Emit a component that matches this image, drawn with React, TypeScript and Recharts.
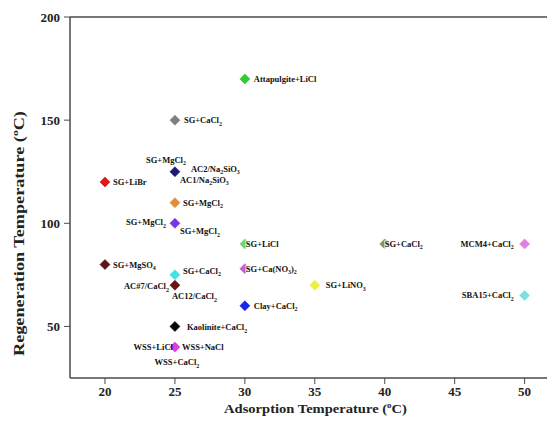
import React from "react"
import {
  ScatterChart,
  Scatter,
  XAxis,
  YAxis,
  ReferenceLine,
  Label,
} from "recharts"

// adsorption / regeneration temperatures (°C)
const adsorptionTemp = [30, 25, 25, 20, 25, 25, 30, 40, 50, 20, 30, 25, 25, 35, 50, 30, 25, 25]
const regenerationTemp = [170, 150, 125, 120, 110, 100, 90, 90, 90, 80, 78, 75, 70, 70, 65, 60, 50, 40]
const sorbentLabels = [
  ["Attapulgite+LiCl"],
  ["SG+CaCl_2"],
  ["SG+MgCl_2", "AC2/Na_2SiO_3", "AC1/Na_2SiO_3"],
  ["SG+LiBr"],
  ["SG+MgCl_2"],
  ["SG+MgCl_2", "SG+MgCl_2"],
  ["SG+LiCl"],
  ["SG+CaCl_2"],
  ["MCM4+CaCl_2"],
  ["SG+MgSO_4"],
  ["SG+Ca(NO_3)_2"],
  ["SG+CaCl_2"],
  ["AC#7/CaCl_2", "AC12/CaCl_2"],
  ["SG+LiNO_3"],
  ["SBA15+CaCl_2"],
  ["Clay+CaCl_2"],
  ["Kaolinite+CaCl_2"],
  ["WSS+LiCl", "WSS+NaCl", "WSS+CaCl_2"],
]
const xTicks = [20, 25, 30, 35, 40, 45, 50]
const yTicks = [50, 100, 150, 200]

// styling, kept apart from the data
const markerColors = [
  "#2fcc2f", "#7f7f7f", "#1c1c72", "#e0181c", "#df8f35", "#7a35e0",
  "#6fd66f", "#87955a", "#df7fe0", "#5e1414", "#c75fd1", "#3fe3e3",
  "#6a1515", "#eded45", "#7fdfe0", "#1428e6", "#050505", "#e13ce0",
]
// [dx, dy, anchor, whiteBackground]
const labelLayout: [number, number, string, boolean?][][] = [
  [[9, 3, "start"]],
  [[9, 3, "start"]],
  [[11, -9, "end"], [16, 0, "start"], [5, 11, "start"]],
  [[8, 3, "start"]],
  [[8, 3, "start"]],
  [[-9, 2, "end"], [5, 11, "start"]],
  [[1, 3, "start", true]],
  [[0, 3, "start", true]],
  [[-11, 3, "end"]],
  [[8, 3, "start"]],
  [[1, 3, "start", true]],
  [[8, -1, "start"]],
  [[-6, 4, "end"], [-3, 14, "start"]],
  [[11, 3, "start"]],
  [[-11, 3, "end"]],
  [[9, 3, "start"]],
  [[12, 4, "start"]],
  [[-2, 3, "end"], [7, 3, "start"], [2, 18, "middle"]],
]

const points = adsorptionTemp.map((x, i) => ({ x, y: regenerationTemp[i], idx: i }))

const FONT = "'Liberation Serif', 'Times New Roman', serif"
const LABEL_SIZE = 8.5

function RichText({ x, y, text, anchor, size }: any) {
  const parts = text.split(/_(\d)/)
  let cur = 0
  const kids: any[] = []
  parts.forEach((p: string, i: number) => {
    if (!p) return
    const sub = i % 2 === 1
    const target = sub ? size * 0.3 : 0
    kids.push(
      <tspan key={i} dy={target - cur} fontSize={sub ? size * 0.7 : size}>
        {p}
      </tspan>
    )
    cur = target
  })
  return (
    <text x={x} y={y} textAnchor={anchor} fontFamily={FONT} fontWeight="bold" fontSize={size} fill="#111">
      {kids}
    </text>
  )
}

const DiamondWithLabels = (props: any) => {
  const { cx, cy, payload } = props
  const i = payload.idx
  const r = 5
  const color = markerColors[i]
  return (
    <g>
      <path
        d={`M${cx},${cy - r}L${cx + r},${cy}L${cx},${cy + r}L${cx - r},${cy}Z`}
        fill={color}
        stroke={color}
        strokeOpacity={0.6}
        strokeWidth={1}
      />
      {sorbentLabels[i].map((t, k) => {
        const [dx, dy, anchor, bg] = labelLayout[i][k]
        const w = t.replace(/_/g, "").length * LABEL_SIZE * 0.48
        return (
          <g key={k}>
            {bg && <rect x={cx + dx - 0.5} y={cy + dy - 6.5} width={w} height={9} fill="#fff" fillOpacity={0.75} />}
            <RichText x={cx + dx} y={cy + dy} text={t} anchor={anchor} size={LABEL_SIZE} />
          </g>
        )
      })}
    </g>
  )
}

const XTitle = ({ viewBox }: any) => {
  const { x, y, width } = viewBox
  const cx = x + width / 2 + 7
  const cy = y + 35
  return (
    <text
      transform={`translate(${cx}, ${cy}) scale(1.12, 1)`}
      textAnchor="middle"
      fontFamily={FONT}
      fontWeight="bold"
      fontSize={13}
      fill="#222"
    >
      Adsorption Temperature (<tspan dy={-5} fontSize={8}>o</tspan>
      <tspan dy={5}>C)</tspan>
    </text>
  )
}

const YTitle = ({ viewBox }: any) => {
  const { x, y, height } = viewBox
  const cx = x + 20
  const cy = y + height / 2 + 36
  return (
    <text
      transform={`translate(${cx}, ${cy}) rotate(-90) scale(1.3, 1)`}
      textAnchor="middle"
      dominantBaseline="central"
      fontFamily={FONT}
      fontWeight="bold"
      fontSize={14}
      fill="#222"
    >
      Regeneration Temperature (<tspan dy={-5} fontSize={9}>o</tspan>
      <tspan dy={5}>C)</tspan>
    </text>
  )
}

export default function App() {
  const axisStroke = "#4a4a4a"
  const tickStyle = { fontFamily: FONT, fontWeight: "bold", fontSize: 13, fill: "#222" }
  return (
    <div style={{ position: "absolute", left: 0, top: 0, width: 548, height: 435, background: "#fff" }}>
      <ScatterChart width={548} height={435} margin={{ top: 17, right: 1, left: 0, bottom: 0 }}>
        <XAxis
          type="number"
          dataKey="x"
          domain={[17.5, 51.6]}
          ticks={xTicks}
          allowDataOverflow
          height={57}
          tick={tickStyle}
          tickSize={6}
          tickMargin={3}
          tickLine={{ stroke: axisStroke }}
          axisLine={{ stroke: axisStroke, strokeWidth: 1.5 }}
        >
          <Label content={<XTitle />} />
        </XAxis>
        <YAxis
          type="number"
          dataKey="y"
          domain={[25, 200]}
          ticks={yTicks}
          allowDataOverflow
          width={70}
          tick={tickStyle}
          tickSize={6}
          tickMargin={4}
          tickLine={{ stroke: axisStroke }}
          axisLine={{ stroke: axisStroke, strokeWidth: 1.5 }}
        >
          <Label content={<YTitle />} />
        </YAxis>
        <ReferenceLine y={200} stroke={axisStroke} strokeWidth={1.5} />
        <Scatter data={points} shape={DiamondWithLabels} isAnimationActive={false} />
      </ScatterChart>
    </div>
  )
}
